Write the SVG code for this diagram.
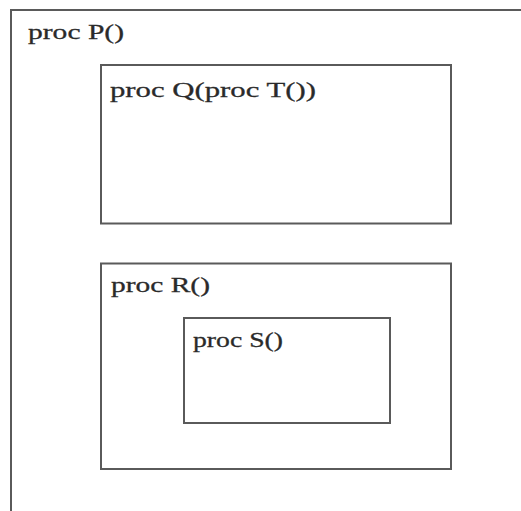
<svg xmlns="http://www.w3.org/2000/svg" width="521" height="511" viewBox="0 0 521 511">
<style>
.box{fill:none;stroke:#5a5a5a;stroke-width:2}
.lbl{font-family:"Liberation Serif","Times New Roman",serif;font-size:22px;fill:#2a2a2a;stroke:#2a2a2a;stroke-width:0.3}
</style>
<rect width="521" height="511" fill="#ffffff"/>
<g id="P">
<rect class="box" x="11" y="10" width="530" height="520"/>
<text class="lbl" x="28" y="38.5" textLength="96" lengthAdjust="spacingAndGlyphs">proc P()</text>
</g>
<g id="Q">
<rect class="box" x="101" y="65" width="350" height="158.5"/>
<text class="lbl" x="110" y="96.5" textLength="206" lengthAdjust="spacingAndGlyphs">proc Q(proc T())</text>
</g>
<g id="R">
<rect class="box" x="101" y="263.5" width="350" height="205.5"/>
<text class="lbl" x="111" y="292" textLength="99" lengthAdjust="spacingAndGlyphs">proc R()</text>
</g>
<g id="S">
<rect class="box" x="184" y="318" width="206" height="105"/>
<text class="lbl" x="193" y="347" textLength="90" lengthAdjust="spacingAndGlyphs">proc S()</text>
</g>
<g id="connectors"/>
</svg>
